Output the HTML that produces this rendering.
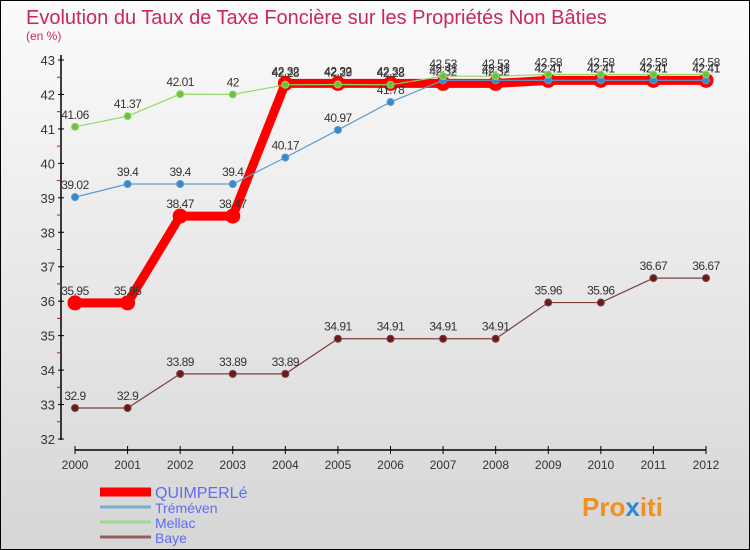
<!DOCTYPE html>
<html><head><meta charset="utf-8"><style>
body{margin:0}
svg{display:block;font-family:"Liberation Sans",sans-serif}
</style></head><body>
<svg id="c" width="750" height="550" xmlns="http://www.w3.org/2000/svg">
<defs><linearGradient id="bg" x1="0" y1="0" x2="0" y2="1"><stop offset="0" stop-color="#fbfbfb"/><stop offset="1" stop-color="#d6d6d6"/></linearGradient></defs>
<rect x="0.5" y="0.5" width="749" height="549" fill="url(#bg)" stroke="#000"/>
<text x="26" y="24" font-size="20" fill="#c8285f">Evolution du Taux de Taxe Foncière sur les Propriétés Non Bâties</text>
<text x="26" y="40" font-size="12" fill="#c8285f">(en %)</text>
<g id="axes"></g>
<g id="series"></g>
<g id="legend"></g>
<text x="582" y="516" font-size="26" font-weight="bold" fill="#f09020">Pro<tspan fill="#2a8ad8">x</tspan>iti</text>
</svg>
<script>
const years=[2000,2001,2002,2003,2004,2005,2006,2007,2008,2009,2010,2011,2012];
const yTicks=[32,33,34,35,36,37,38,39,40,41,42,43];
const quimperle=[35.95,35.95,38.47,38.47,42.32,42.32,42.32,42.32,42.32,42.41,42.41,42.41,42.41];
const tremeven=[39.02,39.4,39.4,39.4,40.17,40.97,41.78,42.41,42.41,42.41,42.41,42.41,42.41];
const mellac=[41.06,41.37,42.01,42,42.28,42.29,42.28,42.53,42.53,42.58,42.58,42.58,42.58];
const baye=[32.9,32.9,33.89,33.89,33.89,34.91,34.91,34.91,34.91,35.96,35.96,36.67,36.67];
const NS="http://www.w3.org/2000/svg";
const X=i=>75+i*(706-75)/(years.length-1);
const Y=v=>439-(v-32)*(439-60)/11;
function mk(t,a,p){const e=document.createElementNS(NS,t);for(const k in a)e.setAttribute(k,a[k]);p.appendChild(e);return e;}
const ax=document.getElementById('axes');
let e=mk('line',{x1:61,y1:55,x2:61,y2:440,stroke:'#000','stroke-width':1.5},ax);


e=mk('line',{x1:75,y1:450,x2:706,y2:450,stroke:'#000','stroke-width':1.5},ax);


yTicks.forEach(v=>{
 mk('line',{x1:58,y1:Y(v),x2:64,y2:Y(v),stroke:'#000'},ax);
 if(v<43)mk('line',{x1:57,y1:Y(v+0.5),x2:60,y2:Y(v+0.5),stroke:'#e00'},ax);
 const t=mk('text',{x:55,y:Y(v)+5,'font-size':13,fill:'#333','text-anchor':'end'},ax);t.textContent=v;
 
 
});
years.forEach((y,i)=>{
 mk('line',{x1:X(i),y1:446,x2:X(i),y2:454,stroke:'#000'},ax);
 const t=mk('text',{x:X(i),y:469,'font-size':12,fill:'#333','text-anchor':'middle'},ax);t.textContent=y;
 
 
});
const sg=document.getElementById('series');
function draw(data,name,col,w,r,pc){
 const g=mk('g',{},sg);
 
 
 const l=mk('polyline',{points:data.map((v,i)=>X(i)+','+Y(v)).join(' '),fill:'none',stroke:col,'stroke-width':w},g);
 
 
 data.forEach((v,i)=>{
  const c=mk('circle',{cx:X(i),cy:Y(v),r:r,fill:pc,stroke:col,'stroke-width':1},g);
  
  
  const t=mk('text',{x:X(i),y:Y(v)-8,'font-size':12,fill:'#333','text-anchor':'middle','letter-spacing':'-0.5'},g);t.textContent=v;
  
  
 });
}
draw(baye,'baye','#7a4040',1.2,3.5,'#6a1a1a');
draw(quimperle,'quimperle','#ff0000',9,7,'#ff0000');
draw(tremeven,'tremeven','#5a9ad0',1.2,3.5,'#3a88c8');
draw(mellac,'mellac','#90d860',1.2,3.5,'#70c040');
const lg=document.getElementById('legend');
[['QUIMPERLé','#ff0000',9,'legend-quimperle',16],['Tréméven','#7aaad0',3,'legend-tremeven',14],['Mellac','#a0d890',3,'legend-mellac',14],['Baye','#906060',3,'legend-baye',14]].forEach((d,i)=>{
 const y=492+i*15;
 const g=mk('g',{},lg);
 
 
 mk('line',{x1:100,y1:y,x2:151,y2:y,stroke:d[1],'stroke-width':d[2]},g);
 const t=mk('text',{x:155,y:y+6,'font-size':d[4],fill:'#5f6cf0'},g);t.textContent=d[0];
});
</script>
</body></html>
